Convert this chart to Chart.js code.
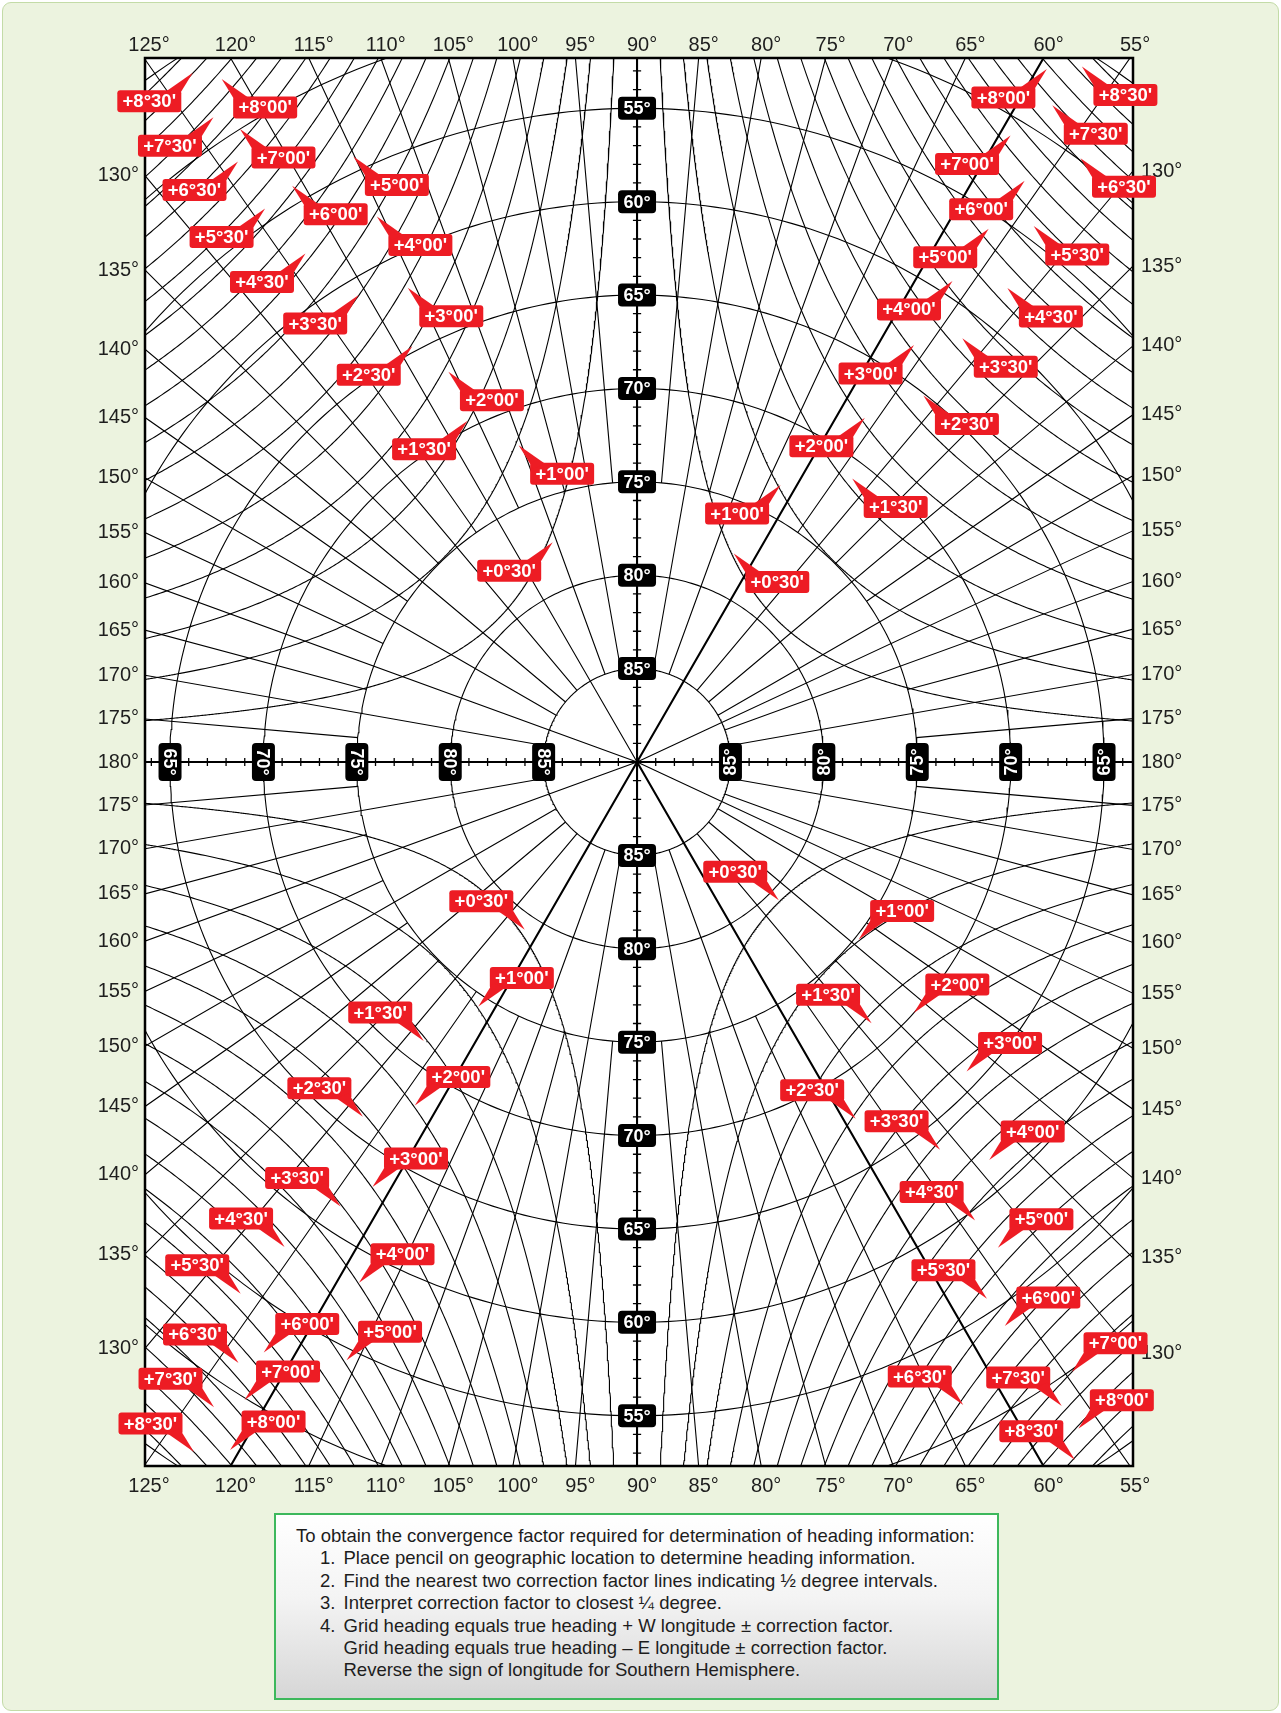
<!DOCTYPE html>
<html>
<head>
<meta charset="utf-8">
<script src="https://cdn.jsdelivr.net/npm/chart.js@4.4.0/dist/chart.umd.min.js"></script>
<style>
  html, body { margin: 0; padding: 0; background: #fff; }
  #wrap { position: relative; width: 1281px; height: 1713px; }
  #panel { position: absolute; left: 2px; top: 2px; width: 1277px; height: 1709px; box-sizing: border-box;
           background: #ecf3df; border: 1px solid #c3dba7; border-radius: 9px; }
  #c { position: absolute; left: 0; top: 0; }
  #note { position: absolute; left: 274px; top: 1513px; width: 725px; height: 187px; box-sizing: border-box;
          border: 2px solid #3db85c; background: linear-gradient(#ffffff 0%, #f4f4f4 45%, #d6d6d6 100%);
          font: 18.5px 'Liberation Sans', Arial, sans-serif; color: #1d1d1d; line-height: 22.4px;
          padding: 10px 0 0 20px; white-space: nowrap; }
  #note .n { padding-left: 24px; }
  #note .n span { display: inline-block; width: 23.5px; }
  #note .c { padding-left: 47.5px; }
</style>
</head>
<body>
<div id="wrap">
  <div id="panel"></div>
  <canvas id="c" width="1281" height="1713"></canvas>
  <div id="note">
    <div>To obtain the convergence factor required for determination of heading information:</div>
    <div class="n"><span>1.</span>Place pencil on geographic location to determine heading information.</div>
    <div class="n"><span>2.</span>Find the nearest two correction factor lines indicating ½ degree intervals.</div>
    <div class="n"><span>3.</span>Interpret correction factor to closest ¼ degree.</div>
    <div class="n"><span>4.</span>Grid heading equals true heading + W longitude ± correction factor.</div>
    <div class="c">Grid heading equals true heading – E longitude ± correction factor.</div>
    <div class="c">Reverse the sign of longitude for Southern Hemisphere.</div>
  </div>
</div>
<script>
// polar grid: 1 unit = 1 degree of colatitude, pole at 0,0, bearing 0 = the 90° meridian (up)
const X_MIN = -26.34, X_MAX = 26.55, Y_MIN = -37.69, Y_MAX = 37.69;

// latitude circles and the ones that carry a black label
const circleLats = [45, 50, 55, 60, 65, 70, 75, 80, 85];
const axisLabelLats = [55, 60, 65, 70, 75, 80, 85];
const sideLabelLats = [65, 70, 75, 80, 85];

// longitude labels round the frame
const topLabels = [125, 120, 115, 110, 105, 100, 95, 90, 85, 80, 75, 70, 65, 60, 55];
const sideLabels = [130, 135, 140, 145, 150, 155, 160, 165, 170, 175, 180,
                    175, 170, 165, 160, 155, 150, 145, 140, 135, 130];

// meridians that run into the pole (bearings)
const poleThick = [30, 150, -150];
const poleThin = [-30, 65, 115, -70, -110];

// correction factor lines, degrees
const corrLevels = [0.5, 1, 1.5, 2, 2.5, 3, 3.5, 4, 4.5, 5, 5.5, 6, 6.5, 7, 7.5, 8, 8.5, 9, 9.5];

// red labels: value, latitude and bearing of the pointer tip
const labelValues = [
  8.5, 8, 7.5, 7, 6.5, 6, 5.5, 5, 4.5, 4, 3.5, 3, 2.5, 2, 1.5, 1, 0.5,
  8.5, 8, 7.5, 7, 6.5, 6, 5.5, 5, 4.5, 4, 3.5, 3, 2.5, 2, 1.5, 1, 0.5,
  0.5, 1, 1.5, 2, 2.5, 3, 3.5, 4, 4.5, 5, 5.5, 6, 6.5, 7, 7.5, 8, 8.5,
  0.5, 1, 1.5, 2, 2.5, 3, 3.5, 4, 4.5, 5, 5.5, 6, 6.5, 7, 7.5, 8, 8.5
];
const labelLats = [
  46.1, 47.2, 48.7, 50.0, 51.4, 54.05, 54.3, 54.2, 57.5, 57.65, 60.9, 61.8, 64.7, 66.8, 69.6, 71.9, 77.4,
  45.8, 46.9, 48.4, 50.95, 49.9, 52.6, 54.3, 55.8, 57.8, 59.2, 61.4, 63.2, 65.1, 67.9, 70.95, 73.3, 77.7,
  79.2, 74.4, 71.2, 68.1, 66.0, 63.2, 61.4, 58.4, 57.9, 54.4, 54.5, 52.6, 51.4, 49.9, 48.7, 47.2, 46.1,
  79.4, 74.8, 71.2, 70.0, 67.6, 65.8, 63.65, 61.55, 59.5, 57.6, 55.7, 53.95, 51.4, 49.9, 48.7, 47.2, 45.9
];
const labelBearings = [
  -32.8, -31.3, -33.3, -32.1, -33.6, -30.9, -33.9, -25.1, -33.1, -25.5, -30.8, -25.8, -28.4, -25.8, -26.4, -20.5, -21.0,
  32.6, 30.6, 32.3, 30.8, 36.3, 33.7, 36.5, 33.4, 38.0, 33.25, 37.5, 33.6, 38.0, 33.5, 37.2, 27.4, 24.9,
  -146.2, -147.0, -142.6, -147.1, -142.3, -148.1, -146.3, -151.9, -144.0, -154.1, -143.3, -147.7, -146.45, -148.4, -146.75, -149.4, -147.3,
  134.3, 128.7, 138.1, 132.2, 148.5, 133.2, 142.0, 138.5, 143.6, 143.4, 146.9, 146.9, 153.1, 144.5, 146.6, 146.5, 147.9
];
// which way the pointer leaves the box
const labelTails = [
  'ur','ul','ur','ul','ur','ul','ur','ul','ur','ul','ur','ul','ur','ul','ur','ul','ur',
  'ul','ur','ul','ur','ul','ur','ul','ur','ul','ur','ul','ur','ul','ur','ul','ur','ul',
  'dr','dl','dr','dl','dr','dl','dr','dl','dr','dl','dr','dl','dr','dl','dr','dl','dr',
  'dr','dl','dr','dl','dr','dl','dr','dl','dr','dl','dr','dl','dr','dl','dr','dl','dr'
];

const RED = '#ed1c24';
const rad = d => d * Math.PI / 180;
const deg = r => r * 180 / Math.PI;
const polar = (rho, brg) => ({ x: rho * Math.sin(rad(brg)), y: rho * Math.cos(rad(brg)) });
const GAP = { x: NaN, y: NaN };

function joinPaths(paths) {
  const out = [];
  paths.forEach((p, i) => { if (i) out.push(GAP); out.push(...p); });
  return out;
}

// latitude circles
const circlePaths = circleLats.map(lat => {
  const pts = [];
  for (let b = 0; b <= 360; b += 1) pts.push(polar(90 - lat, b));
  return pts;
});

// meridians every 5°, every 10° from 85°, the rest from 75°
const thinMer = [], thickMer = [];
for (let b = -175; b <= 180; b += 5) {
  if (b % 90 === 0) continue;
  if (poleThick.includes(b)) { thickMer.push([polar(0, b), polar(60, b)]); continue; }
  const start = poleThin.includes(b) ? 0 : (b % 10 === 0 ? 5 : 15);
  thinMer.push([polar(start, b), polar(60, b)]);
}
const axes = [[polar(60, 0), polar(60, 180)], [polar(60, 90), polar(60, -90)]];

// 1° ticks on the two axes
const tickPaths = [];
const TK = 0.22;
for (let k = 1; k <= 37; k++) {
  tickPaths.push([{ x: -TK, y: k }, { x: TK, y: k }], [{ x: -TK, y: -k }, { x: TK, y: -k }]);
  if (k <= 26) tickPaths.push([{ x: k, y: -TK }, { x: k, y: TK }], [{ x: -k, y: -TK }, { x: -k, y: TK }]);
}

// correction lines: angle between grid and true north differs by atan(tan(b)/sin(lat)) - b
function corrPath(c, sx, sy) {
  const pts = [];
  for (let p = 0.02; p < 90 - c; p += (p < 8 || p > 80 - c ? 0.04 : 0.25)) {
    const s = Math.tan(rad(p)) / Math.tan(rad(p + c));
    if (!(s > 0 && s < 1)) continue;
    const rho = 90 - deg(Math.asin(s));
    if (rho > 52) continue;
    pts.push({ x: sx * rho * Math.sin(rad(p)), y: sy * rho * Math.cos(rad(p)) });
  }
  return pts;
}
const corrPaths = [];
[[-1, 1], [1, 1], [-1, -1], [1, -1]].forEach(([sx, sy]) => {
  corrLevels.forEach(c => corrPaths.push(corrPath(c, sx, sy)));
});

const topTicks = topLabels.map(l => Y_MAX * Math.tan(rad(90 - l)));
const sideTicks = (edge) => sideLabels.map((l, i) => {
  const psi = rad(l - 90);
  return (i < 10 ? 1 : (i === 10 ? 0 : -1)) * edge / Math.tan(psi);
});
const leftTicks = sideTicks(-X_MIN);
const rightTicks = sideTicks(X_MAX);

function corrText(v) {
  const d = Math.floor(v), m = Math.round((v - d) * 60);
  return '+' + d + '°' + String(m).padStart(2, '0') + "'";
}

const marks = {
  id: 'marks',
  beforeDraw(chart) {
    const { ctx, chartArea: a } = chart;
    ctx.save();
    ctx.fillStyle = '#fff';
    ctx.fillRect(a.left, a.top, a.width, a.height);
    ctx.restore();
  },
  afterDatasetsDraw(chart) {
    const { ctx, chartArea: a } = chart;
    const sx = chart.scales.x, sy = chart.scales.y;
    const px = v => sx.getPixelForValue(v), py = v => sy.getPixelForValue(v);
    ctx.save();
    ctx.lineWidth = 2.5;
    ctx.strokeStyle = '#000';
    ctx.strokeRect(a.left, a.top, a.width, a.height);

    // black latitude boxes
    ctx.font = "bold 18px 'Liberation Sans', Arial, sans-serif";
    ctx.textAlign = 'center';
    ctx.textBaseline = 'middle';
    const latBox = (x, y, rot, txt) => {
      ctx.save();
      ctx.translate(x, y);
      ctx.rotate(rot);
      ctx.fillStyle = '#000';
      ctx.beginPath(); ctx.roundRect(-19, -11.5, 38, 23, 4); ctx.fill();
      ctx.fillStyle = '#fff';
      ctx.fillText(txt, 0, 1);
      ctx.restore();
    };
    axisLabelLats.forEach(lat => {
      latBox(px(0), py(90 - lat), 0, lat + '°');
      latBox(px(0), py(lat - 90), 0, lat + '°');
    });
    sideLabelLats.forEach(lat => {
      latBox(px(lat - 90), py(0), Math.PI / 2, lat + '°');
      latBox(px(90 - lat), py(0), -Math.PI / 2, lat + '°');
    });

    // red correction labels
    ctx.font = "bold 18.5px 'Liberation Sans', Arial, sans-serif";
    labelValues.forEach((v, i) => {
      const p = polar(90 - labelLats[i], labelBearings[i]);
      const tx = px(p.x), ty = py(p.y), dir = labelTails[i];
      const boxLeft = dir === 'ur' || dir === 'dr';
      const up = dir === 'ur' || dir === 'ul';
      const cx = tx + (boxLeft ? -43.5 : 43.5), cy = ty + (up ? 28.5 : -28.5);
      const w = 64, h = 22, l = cx - w / 2, t = cy - h / 2;
      ctx.fillStyle = RED;
      ctx.beginPath(); ctx.roundRect(l, t, w, h, 3); ctx.fill();
      const ex = boxLeft ? l + w : l, sg = boxLeft ? -1 : 1;
      const ey = up ? t : t + h, vs = up ? 1 : -1;
      ctx.beginPath();
      ctx.moveTo(tx, ty);
      ctx.lineTo(ex + sg * 3, ey + vs * 6);
      ctx.lineTo(ex + sg * 15, ey + vs * 1);
      ctx.closePath();
      ctx.fill();
      ctx.fillStyle = '#fff';
      ctx.fillText(corrText(v), cx, cy + 1);
    });
    ctx.restore();
  }
};

const tickFont = { family: "'Liberation Sans', Arial, sans-serif", size: 20 };
const lineSet = (data, width) => ({
  data, showLine: true, borderColor: '#000', borderWidth: width, pointRadius: 0, pointHitRadius: 0, spanGaps: false
});

new Chart(document.getElementById('c'), {
  type: 'scatter',
  data: {
    datasets: [
      lineSet(joinPaths(circlePaths), 1.1),
      lineSet(joinPaths(thinMer), 1.1),
      lineSet(joinPaths(corrPaths), 1.1),
      lineSet(joinPaths(thickMer), 2.1),
      lineSet(joinPaths(axes), 2.1),
      lineSet(joinPaths(tickPaths), 1.3)
    ]
  },
  options: {
    responsive: false,
    animation: false,
    devicePixelRatio: 1,
    layout: { padding: 0 },
    plugins: { legend: { display: false }, tooltip: { enabled: false } },
    scales: {
      x: {
        type: 'linear', position: 'bottom', min: X_MIN, max: X_MAX,
        grid: { display: false, drawTicks: false }, border: { display: false },
        afterBuildTicks: s => { s.ticks = topTicks.map(v => ({ value: v })); },
        afterFit: s => { s.height = 247; },
        ticks: { autoSkip: false, maxRotation: 0, padding: 8, labelOffset: 5, color: '#1e1e1e', font: tickFont,
                 callback: (v, i) => topLabels[i] + '°' }
      },
      x2: {
        type: 'linear', axis: 'x', position: 'top', min: X_MIN, max: X_MAX,
        grid: { display: false, drawTicks: false }, border: { display: false },
        afterBuildTicks: s => { s.ticks = topTicks.map(v => ({ value: v })); },
        afterFit: s => { s.height = 58; },
        ticks: { autoSkip: false, maxRotation: 0, padding: 1, labelOffset: 5, color: '#1e1e1e', font: tickFont,
                 callback: (v, i) => topLabels[i] + '°' }
      },
      y: {
        type: 'linear', position: 'left', min: Y_MIN, max: Y_MAX,
        grid: { display: false, drawTicks: false }, border: { display: false },
        afterBuildTicks: s => { s.ticks = leftTicks.map(v => ({ value: v })); },
        afterFit: s => { s.width = 145; },
        ticks: { autoSkip: false, padding: 6, color: '#1e1e1e', font: tickFont,
                 callback: (v, i) => sideLabels[i] + '°' }
      },
      y2: {
        type: 'linear', axis: 'y', position: 'right', min: Y_MIN, max: Y_MAX,
        grid: { display: false, drawTicks: false }, border: { display: false },
        afterBuildTicks: s => { s.ticks = rightTicks.map(v => ({ value: v })); },
        afterFit: s => { s.width = 148; },
        ticks: { autoSkip: false, padding: 8, color: '#1e1e1e', font: tickFont,
                 callback: (v, i) => sideLabels[i] + '°' }
      }
    }
  },
  plugins: [marks]
});
</script>
</body>
</html>
